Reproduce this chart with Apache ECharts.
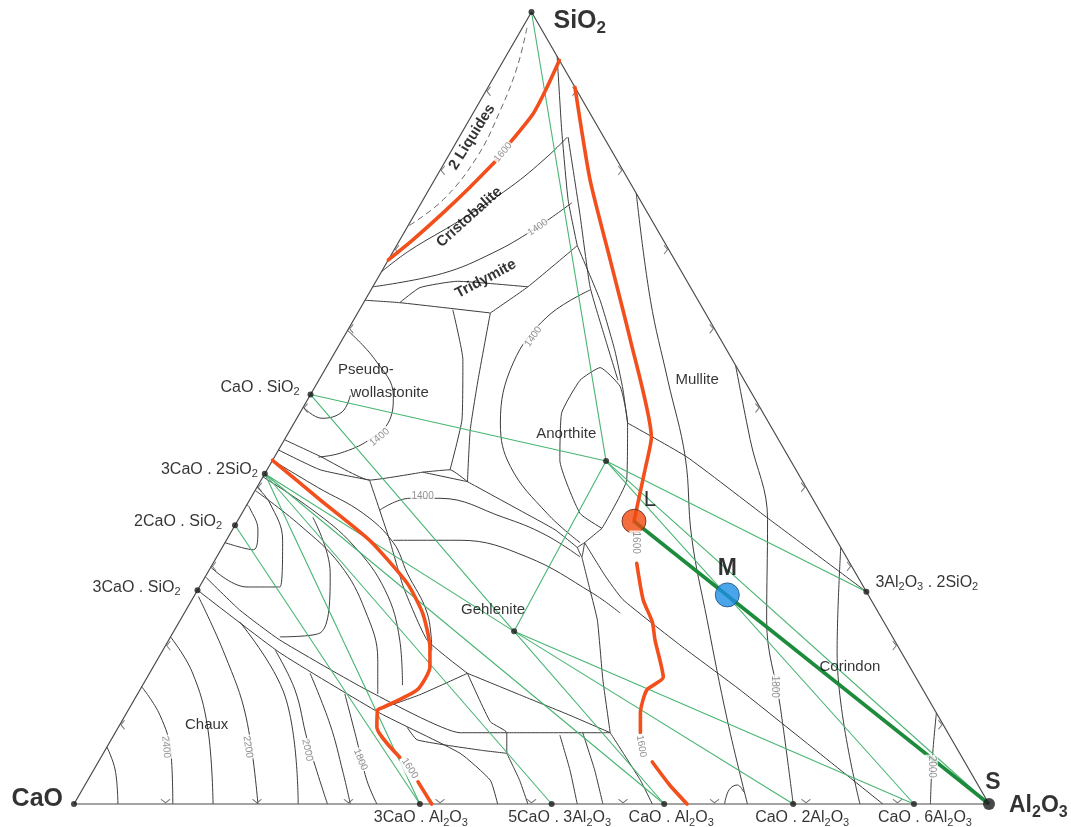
<!DOCTYPE html>
<html>
<head>
<meta charset="utf-8">
<title>CaO - Al2O3 - SiO2</title>
<script src="https://cdn.jsdelivr.net/npm/echarts@6/dist/echarts.min.js"></script>
<style>
  html, body { margin: 0; padding: 0; background: #ffffff; }
  #chart { width: 1071px; height: 827px; }
</style>
</head>
<body>
<div id="chart"></div>
<script>
// Compositions are written as [Al2O3 wt%, SiO2 wt%]; CaO is the remainder.

// compounds: key, label, composition
const compounds = [
  ['CaO', 'CaO', [0, 0]],
  ['SiO2', 'SiO2', [0, 100]],
  ['CS', 'CaO . SiO2', [0, 51.7]],
  ['C3S2', '3CaO . 2SiO2', [0, 41.7]],
  ['C2S', '2CaO . SiO2', [0, 35.2]],
  ['C3S', '3CaO . SiO2', [0, 27.0]],
  ['C3A', '3CaO . Al2O3', [37.8, 0]],
  ['C5A3', '5CaO . 3Al2O3', [52.2, 0]],
  ['CA', 'CaO . Al2O3', [64.5, 0]],
  ['CA2', 'CaO . 2Al2O3', [78.6, 0]],
  ['CA6', 'CaO . 6Al2O3', [91.8, 0]],
  ['A3S2', '3Al2O3 . 2SiO2', [73.2, 26.8]],
  ['CAS2', '', [36.5, 43.3]],
  ['C2AS', '', [37.2, 21.8]]
];

// points of the L - M - S construction
const pointL = [43.35, 35.7];
const pointM = [58.2, 26.4];
const pointS = [100, 0];

// compatibility (tie) lines between solid phases
const tieLines = [
  ['SiO2', 'CAS2'], ['CS', 'CAS2'], ['CS', 'C2AS'], ['CAS2', 'C2AS'],
  ['CAS2', 'A3S2'], ['CAS2', 'Al2O3'], ['CAS2', 'CA6'], ['C2AS', 'CA6'],
  ['C2AS', 'CA2'], ['C2AS', 'CA'], ['C3S2', 'C2AS'], ['C3S2', 'CA'],
  ['C3S2', 'C5A3'], ['C3S2', 'C3A'], ['C2S', 'C3A']
];

// boundary curves between primary phase fields
const fieldBoundaries = [
  [[5.6, 94.4], [10.75, 85.1], [15.85, 76.3], [19.75, 70.5]],
  [[14.5, 62.0], [16.95, 65.3], [19.75, 70.5]],
  [[3.95, 63.3], [5.2, 65.2], [8.9, 66.0], [16.95, 65.3]],
  [[0, 63.6], [3.95, 63.3], [14.5, 62.0]],
  [[10.2, 62.4], [14.45, 56.1], [18.15, 48.5], [20.0, 42.2]],
  [[14.5, 62.0], [17.4, 53.5], [19.7, 47.2], [22.65, 40.7]],
  [[17.15, 41.9], [20.0, 42.2], [22.65, 40.7], [17.15, 41.9]],
  [[19.75, 70.5], [25.7, 63.6], [30.45, 57.3], [33.85, 52.3], [36.45, 48.1]],
  [[11.9, 84.2], [18.1, 74.4], [23.75, 65.3], [28.8, 58.6], [32.7, 53.5]],
  [[36.45, 48.1], [45.1, 43.8], [57.6, 36.2], [73.2, 26.8]],
  [[40.3, 34.8], [36.95, 36.7], [31.4, 43.4], [28.6, 49.4], [28.55, 53.5], [29.95, 55.1], [33.35, 52.7], [36.45, 48.1], [39.95, 40.9], [40.3, 34.8]],
  [[40.3, 34.8], [39.3, 33.0]],
  [[38.8, 32.4], [39.3, 33.0], [39.9, 31.2], [38.8, 32.4]],
  [[22.65, 40.7], [30.15, 37.1], [35.3, 34.6], [38.8, 32.4]],
  [[39.9, 31.2], [42.9, 27.0], [45.6, 23.2], [49.95, 15.7], [54.1, 9.0]],
  [[39.3, 33.0], [43.55, 28.9], [47.1, 25.8], [56.15, 20.1], [65.6, 14.4], [76.7, 7.4], [88.4, 0]],
  [[0, 46.0], [4.95, 43.9], [11.85, 40.9], [17.15, 41.9]],
  [[0, 44.7], [5.8, 42.2], [11.85, 40.9]],
  [[11.85, 40.9], [17.85, 33.3], [22.3, 27.4], [28.25, 20.7], [34.75, 16.5]],
  [[34.75, 16.5], [41.8, 13.8], [48.6, 11.2], [54.1, 9.0]],
  [[42.8, 9.0], [54.1, 9.0]],
  [[27.25, 11.9], [30.9, 13.8], [34.75, 16.5]],
  [[31.55, 9.7], [33.45, 8.1], [41.0, 6.8], [44.1, 6.4]],
  [[34.75, 16.5], [40.3, 10.4], [42.8, 9.0], [44.1, 6.4]],
  [[0, 28.7], [5.85, 24.5], [12.15, 20.7], [24.8, 14.4], [37.7, 9.0], [42.8, 9.0]],
  [[0, 27.0], [12.95, 19.1], [27.65, 11.5], [39.0, 6.4], [44.0, 3.0], [46.3, 0]],
  [[44.1, 6.4], [47.2, 3.0], [49.6, 0]],
  [[48.75, 8.7], [52.05, 4.3], [55.0, 0]],
  [[51.1, 9.0], [54.75, 4.3], [57.8, 0]],
  [[54.1, 9.0], [60.4, 3.0], [63.2, 0]]
];

// liquidus isotherms (black)
const isotherms = [
  [[11.8, 84.2], [10.85, 81.7], [8.75, 77.9], [5.35, 73.7], [1.75, 69.9], [0, 67.2]],
  [[16.45, 75.9], [13.95, 72.5], [11.0, 69.6], [6.8, 67.0], [0, 65.3]],
  [[23.95, 64.9], [20.95, 61.5], [20.15, 55.7], [22.55, 48.1], [26.4, 42.6], [33.35, 36.7], [38.8, 33.0]],
  [[0, 59.8], [4.85, 56.1], [9.1, 51.6], [10.25, 48.5], [9.3, 46.0], [6.95, 44.3], [4.8, 43.8]],
  [[0, 50.1], [2.75, 48.7], [4.55, 49.5], [4.4, 51.6]],
  [[14.85, 37.1], [17.4, 38.6], [20.7, 38.6], [28.8, 36.2], [34.5, 34.0], [39.7, 31.2]],
  [[18.25, 33.3], [25.55, 33.3], [33.9, 31.2], [43.4, 26.6], [47.65, 24.1]],
  [[0, 43.4], [6.6, 40.0], [13.25, 36.7], [18.4, 33.0], [21.8, 29.2], [26.55, 24.1], [29.4, 19.4]],
  [[0, 41.3], [7.55, 37.1], [14.15, 32.7], [20.5, 27.0], [25.25, 20.7], [28.4, 15.0]],
  [[0, 39.6], [7.1, 35.2], [14.0, 30.2], [19.55, 24.5], [24.1, 18.2], [26.25, 13.9]],
  [[0, 33.0], [3.55, 32.1], [2.8, 34.6], [0.5, 37.4], [0, 37.8]],
  [[0, 29.9], [5.2, 27.4], [8.8, 27.4], [6.15, 33.3], [2.4, 38.0], [0, 40.0]],
  [[11.95, 21.1], [16.1, 21.6], [13.4, 29.2], [8.0, 36.2]],
  [[0, 7.2], [2.35, 4.3], [4.8, 0]],
  [[0, 14.8], [3.8, 11.2], [7.4, 6.4], [10.8, 0]],
  [[0, 21.1], [4.55, 16.7], [9.75, 9.7], [15.2, 0]],
  [[0.5, 26.2], [7.1, 18.8], [13.3, 11.0], [20.1, 0]],
  [[6.6, 23.0], [16.35, 13.5], [24.5, 0]],
  [[12.3, 19.4], [16.95, 14.4], [21.45, 8.1], [27.7, 0]],
  [[17.55, 16.5], [23.0, 10.0], [27.4, 4.0], [30.2, 0]],
  [[22.65, 13.9], [26.85, 8.1], [30.5, 3.0], [33.1, 0]],
  [[22.9, 77.1], [31.2, 63.6], [38.15, 53.5], [44.9, 43.8], [50.65, 33.7], [57.6, 23.2], [66.1, 10.6], [73.6, 0]],
  [[44.6, 55.4], [50.9, 46.0], [57.85, 35.9], [64.1, 23.2], [71.1, 12.2], [78.6, 0]],
  [[67.6, 32.4], [73.85, 19.1], [85.9, 0]],
  [[88.5, 11.5], [91.0, 5.6], [93.6, 0]],
  [[71.1, 0], [70.7, 1.8], [71.3, 2.4], [72.45, 1.5]]
];

// limit of the two-liquid region
const twoLiquidLimit = [[0.5, 98.0], [1.9, 93.1], [2.8, 87.6], [3.2, 81.7], [2.2, 76.3], [0, 72.9]];

// the 1600 °C isotherm
const isotherm1600 = [
  [[6.1, 93.9], [6.45, 90.5], [6.6, 87.2], [5.9, 83.5]],
  [[5.55, 81.3], [4.35, 77.9], [3.0, 74.6], [1.4, 71.2], [0, 68.7]],
  [[9.5, 90.5], [17.0, 78.8], [24.25, 68.7], [31.5, 58.6], [39.95, 46.3], [41.3, 42.2], [43.35, 35.7]],
  [[46.3, 30.4], [49.3, 25.8], [51.7, 23.0], [53.15, 20.7], [56.4, 16.0], [55.4, 14.4], [56.15, 11.5], [57.4, 9.0]],
  [[60.55, 5.3], [63.9, 2.4], [67.0, 0]],
  [[0, 43.4], [7.7, 38.4], [15.65, 33.3], [22.45, 27.9], [26.05, 24.1], [29.0, 19.8], [30.25, 17.3], [30.3, 14.4], [27.7, 12.2], [27.25, 11.9], [28.25, 9.7], [32.65, 5.9]],
  [[36.2, 2.8], [39.1, 0]]
];

// temperature labels written on the isotherms
const isothermLabels = [
  ['1600', [5.75, 82.3]], ['1400', [14.3, 72.8]], ['1400', [20.7, 59.0]],
  ['1400', [10.25, 46.3]], ['1400', [18.7, 38.8]], ['1600', [44.9, 33.0]],
  ['1600', [58.35, 7.3]], ['1600', [34.45, 4.5]], ['1800', [69.2, 14.8]],
  ['2000', [91.35, 4.7]], ['2400', [6.45, 7.2]], ['2200', [15.4, 7.2]],
  ['2000', [22.1, 6.8]], ['1800', [28.5, 5.6]]
];

// names of the primary phase fields
const fieldNames = [
  ['2 Liquides', [1.4, 84.2]], ['Cristobalite', [6.15, 74.1]], ['Tridymite', [11.85, 66.3]],
  ['Pseudo-', [4.5, 54.8]], ['wollastonite', [8.55, 51.9]], ['Anorthite', [30.45, 46.7]],
  ['Mullite', [41.35, 53.5]], ['Gehlenite', [33.55, 24.5]], ['Corindon', [76.15, 17.3]],
  ['Chaux', [9.5, 10.0]]
];

// composition ticks along each side (%)
const sideTicks = [10, 20, 30, 40, 50, 60, 70, 80, 90];

// ---------------------------------------------------------------------------

const FONT = '"Liberation Sans", Arial, Helvetica, sans-serif';
const toXY = ([a, s]) => [a + s / 2, s];
const comp = { Al2O3: [100, 0] };
compounds.forEach(([k, , c]) => { comp[k] = c; });
const chem = t => t.replace(/([A-Za-z])(\d+)/g, '$1{s|$2}');

function textStyle(size, weight, color) {
  const sub = Math.round(size * 0.68);
  const c = color || '#000';
  return {
    color: c, fontFamily: FONT, fontSize: size, fontWeight: weight || 'normal',
    lineHeight: Math.round(size * 1.25),
    rich: { s: { color: c, fontFamily: FONT, fontSize: sub, fontWeight: weight || 'normal', lineHeight: sub, verticalAlign: 'bottom' } }
  };
}

function curve(pts, style, smooth, z) {
  return {
    type: 'line', data: pts.map(toXY), symbol: 'none', smooth: smooth,
    lineStyle: style, silent: true, z: z, clip: false
  };
}

const series = [];

// triangle
series.push(curve([[0, 0], [100, 0], [0, 100], [0, 0]], { color: '#4a4a4a', width: 1.2 }, false, 3));

fieldBoundaries.forEach(p => series.push(curve(p, { color: '#3c3c3c', width: 1 }, 0.15, 2)));
isotherms.forEach(p => series.push(curve(p, { color: '#3c3c3c', width: 1 }, 0.4, 2)));
series.push(curve(twoLiquidLimit, { color: '#6a6a6a', width: 1, type: [6, 4] }, 0.4, 2));

tieLines.forEach(([a, b]) => series.push(curve([comp[a], comp[b]], { color: '#48b572', width: 1.1 }, false, 4)));

isotherm1600.forEach(p => series.push(curve(p, { color: '#f24f1c', width: 3.6, cap: 'round' }, 0.2, 5)));

series.push(curve([pointL, pointS], { color: '#1d8b3c', width: 3.6 }, false, 6));

// side ticks
const tickPath = 'path://M0,0L6,5L0,10';
const tickStyle = { color: 'rgba(0,0,0,0)', borderColor: '#555', borderWidth: 1 };
series.push({
  type: 'scatter', silent: true, z: 3, symbol: tickPath, symbolSize: [6, 9], symbolKeepAspect: true,
  symbolRotate: 180, symbolOffset: [3, 0], itemStyle: tickStyle,
  data: sideTicks.map(t => toXY([0, t]))
});
series.push({
  type: 'scatter', silent: true, z: 3, symbol: tickPath, symbolSize: [6, 9], symbolKeepAspect: true,
  symbolRotate: -90, symbolOffset: [0, -3], itemStyle: tickStyle,
  data: sideTicks.map(t => toXY([t, 0]))
});
series.push({
  type: 'scatter', silent: true, z: 3, symbol: tickPath, symbolSize: [6, 9], symbolKeepAspect: true,
  symbolRotate: 0, symbolOffset: [-3, 0], itemStyle: tickStyle,
  data: sideTicks.map(t => toXY([100 - t, t]))
});

// compound labels placement
const baseLabel = (dx) => ({ position: 'bottom', distance: 1, offset: [dx, 0] });
const placement = {
  CaO: Object.assign(textStyle(25, 'bold'), { position: 'left', distance: 8, offset: [0, -5] }),
  SiO2: Object.assign(textStyle(25, 'bold'), { position: 'right', distance: 19, offset: [0, 9] }),
  CS: { position: 'left', distance: 8, offset: [0, -7] },
  C3S2: { position: 'left', distance: 4, offset: [0, -4] },
  C2S: { position: 'left', distance: 10, offset: [0, -4] },
  C3S: { position: 'left', distance: 14, offset: [0, -3] },
  C3A: baseLabel(1), C5A3: baseLabel(8), CA: baseLabel(7), CA2: baseLabel(9), CA6: baseLabel(11),
  A3S2: { position: 'right', distance: 6, offset: [0, -9] }
};

series.push({
  type: 'scatter', silent: true, z: 8, symbolSize: 6, itemStyle: { color: '#1a1a1a' },
  data: compounds.map(([k, text, c]) => ({
    name: text, value: toXY(c),
    label: Object.assign({ show: text !== '' }, textStyle(16), placement[k] || {},
      { formatter: () => chem(text) })
  }))
});

// L, M, S
series.push({
  type: 'scatter', silent: true, z: 9,
  data: [
    { value: toXY(pointL), symbolSize: 24, itemStyle: { color: '#f0480f', borderColor: '#5a2410', borderWidth: 1 },
      label: Object.assign({ show: true, position: 'inside', offset: [16, -21], formatter: 'L' }, textStyle(22)) },
    { value: toXY(pointM), symbolSize: 24, itemStyle: { color: '#1d8fe6', borderColor: '#1d4c80', borderWidth: 1 },
      label: Object.assign({ show: true, position: 'inside', offset: [0, -26], formatter: 'M' }, textStyle(23, 'bold')) },
    { value: toXY(pointS), symbolSize: 12, itemStyle: { color: '#1a1a1a' },
      label: Object.assign({ show: true, position: 'inside', offset: [4, -21], formatter: 'S' }, textStyle(23, 'bold')) },
    { value: toXY(pointS), symbolSize: 0,
      label: Object.assign({ show: true, position: 'right', distance: 20, offset: [0, 2], formatter: () => chem('Al2O3') }, textStyle(23, 'bold')) }
  ]
});

// field names
const fieldStyle = {
  '2 Liquides': { fontWeight: 'bold', rotate: 58 },
  'Cristobalite': { fontWeight: 'bold', rotate: 42 },
  'Tridymite': { fontWeight: 'bold', rotate: 28 }
};
series.push({
  type: 'scatter', silent: true, z: 10, symbolSize: 0,
  data: fieldNames.map(([text, c]) => ({
    value: toXY(c),
    label: Object.assign({ show: true, position: 'inside', formatter: text }, textStyle(15), fieldStyle[text] || {})
  }))
});

// temperature labels
const isothermAngles = [50, 35, 55, 40, 0, -90, -80, -58, -90, -90, -85, -82, -78, -68];
series.push({
  type: 'scatter', silent: true, z: 10, symbolSize: 0,
  data: isothermLabels.map(([text, c], i) => ({
    value: toXY(c),
    label: Object.assign({ show: true, position: 'inside', formatter: text, rotate: isothermAngles[i],
      backgroundColor: '#ffffff', padding: [0, 1] }, textStyle(10, 'normal', '#777'))
  }))
});

const chart = echarts.init(document.getElementById('chart'));
chart.setOption({
  animation: false,
  backgroundColor: '#ffffff',
  grid: { left: 74, right: 82, top: 12, bottom: 23 },
  xAxis: { type: 'value', min: 0, max: 100, show: false },
  yAxis: { type: 'value', min: 0, max: 100, show: false },
  series: series
});
</script>
</body>
</html>
